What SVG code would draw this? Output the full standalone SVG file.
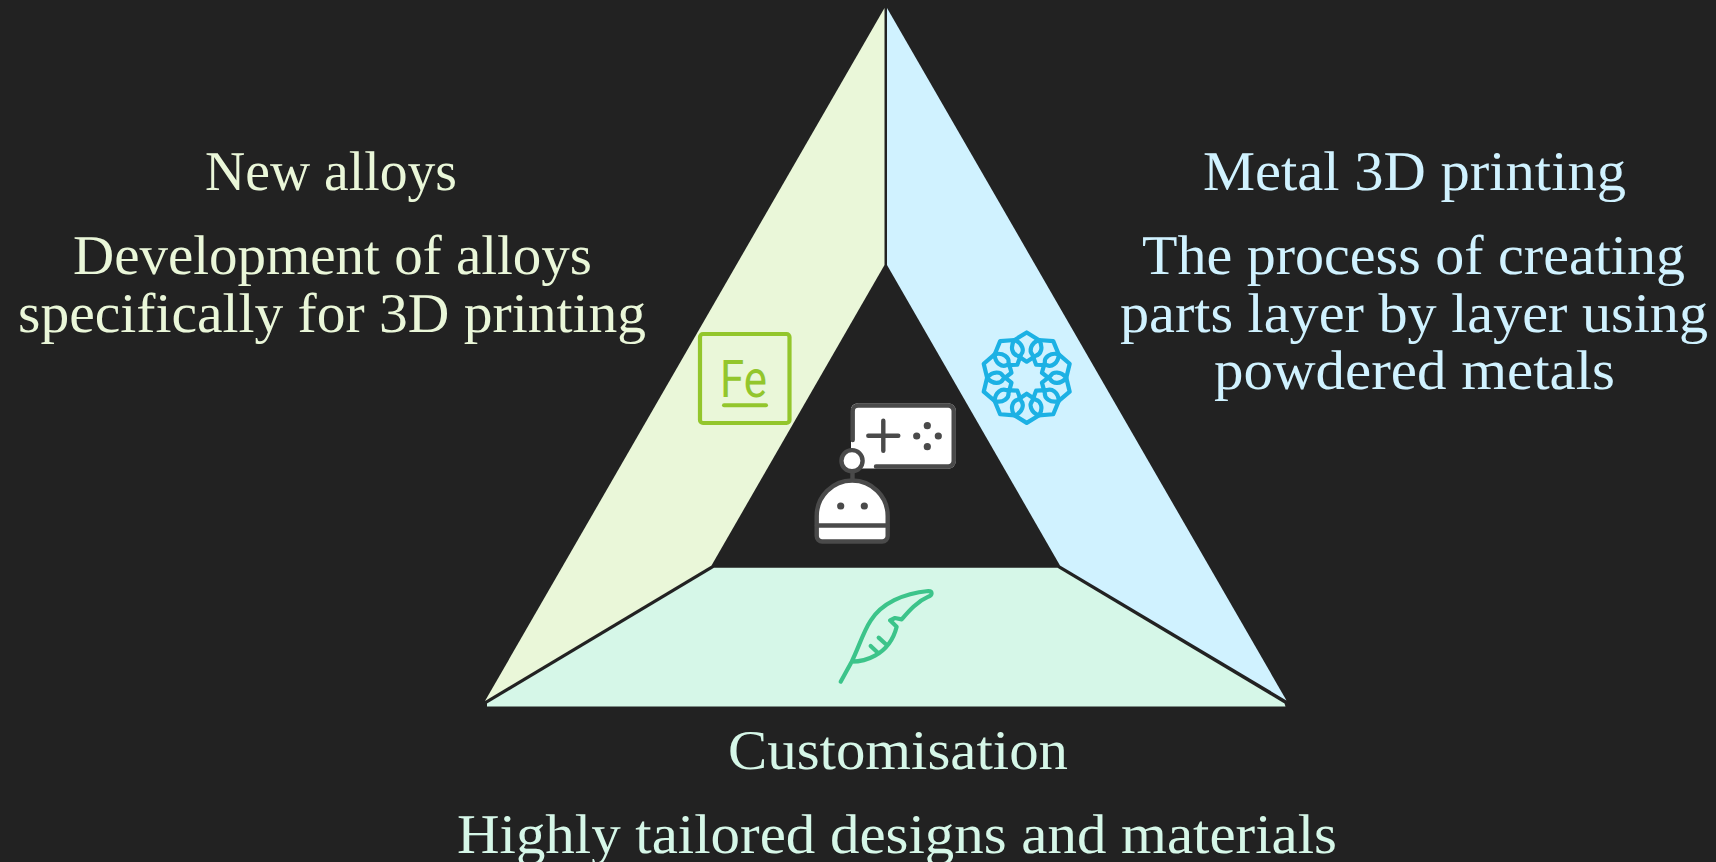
<svg xmlns="http://www.w3.org/2000/svg" width="1716" height="862" viewBox="0 0 1716 862">
<style>
text{font-family:"Liberation Serif","Times New Roman",serif;font-size:56px;text-rendering:geometricPrecision}
.g{fill:#EAF7D9}.b{fill:#D0F2FF}.m{fill:#D6F7E8}
.ln{fill:none;stroke:#4A4A4A;stroke-width:4.4;stroke-linecap:round;stroke-linejoin:round}
.dot{fill:#4A4A4A}
</style>
<defs>
<path id="lobe" d="M0,-45.2 L-12.5,-37.5 C-17,-30 -14,-23 -9,-22 L0,-16 L9,-22 C14,-23 17,-30 12.5,-37.5Z" fill="none" stroke="#1CB1E4" stroke-width="4.2" stroke-linejoin="round"/>
</defs>
<rect width="1716" height="862" fill="#222222"/>
<g id="new-alloys">
<polygon class="g" points="884.5,8 884.5,265 711.5,565.5 485,701"/>
<rect x="700" y="334" width="89.5" height="89" rx="3" fill="none" stroke="#93C62C" stroke-width="4.2"/>
<text x="720" y="397" textLength="47" lengthAdjust="spacingAndGlyphs" style="font-family:Roboto,sans-serif;font-size:52px;font-weight:400;fill:#93C62C">Fe</text>
<line x1="724" y1="405.2" x2="766" y2="405.2" stroke="#93C62C" stroke-width="4" stroke-linecap="round"/>
<text class="g" x="205" y="190" textLength="252" lengthAdjust="spacingAndGlyphs">New alloys</text>
<text class="g" x="73" y="274" textLength="519" lengthAdjust="spacingAndGlyphs">Development of alloys</text>
<text class="g" x="18" y="332" textLength="628" lengthAdjust="spacingAndGlyphs">specifically for 3D printing</text>
</g>
<g id="metal-printing">
<polygon class="b" points="887,8 887,265 1060,565.5 1286.5,700.5"/>
<g id="rosette" transform="translate(1026.7 377.7)">
<use href="#lobe"/><use href="#lobe" transform="rotate(36)"/><use href="#lobe" transform="rotate(72)"/><use href="#lobe" transform="rotate(108)"/><use href="#lobe" transform="rotate(144)"/><use href="#lobe" transform="rotate(180)"/><use href="#lobe" transform="rotate(216)"/><use href="#lobe" transform="rotate(252)"/><use href="#lobe" transform="rotate(288)"/><use href="#lobe" transform="rotate(324)"/>
</g>
<text class="b" x="1203" y="190" textLength="423" lengthAdjust="spacingAndGlyphs">Metal 3D printing</text>
<text class="b" x="1142" y="274" textLength="543" lengthAdjust="spacingAndGlyphs">The process of creating</text>
<text class="b" x="1120" y="332" textLength="588" lengthAdjust="spacingAndGlyphs">parts layer by layer using</text>
<text class="b" x="1214" y="389" textLength="401" lengthAdjust="spacingAndGlyphs">powdered metals</text>
</g>
<g id="customisation">
<polygon class="m" points="714,567.8 1057.5,567.8 1284.5,703.5 1285.5,706.4 487,706.4 487,703.5"/>
<g transform="translate(780 560) scale(.33333)" fill="none" stroke="#3CC48A" stroke-width="12.5" stroke-linecap="round" stroke-linejoin="round">
<path d="M182,365 L215,305 C235,265 250,215 272,182 C305,130 370,100 445,93 C458,93 458,106 445,110 C410,125 385,155 365,178 L345,174 L330,181 L350,200 C340,240 315,270 285,287 C262,300 240,305 215,305"/>
<path d="M272,258 L292,277 M296,233 L317,252"/>
</g>
<text class="m" x="728" y="769" textLength="340" lengthAdjust="spacingAndGlyphs">Customisation</text>
<text class="m" x="457" y="853" textLength="880" lengthAdjust="spacingAndGlyphs">Highly tailored designs and materials</text>
</g>
<g id="robot">
<path d="M857,403.5 H949 a6.5,6.5 0 0 1 6.5,6.5 V462 a6.5,6.5 0 0 1 -6.5,6.5 H860 L851,462 V410 a6,6 0 0 1 6,-6.5z" fill="#fff"/>
<path class="ln" d="M852.7,440 V411 a5.5,5.5 0 0 1 5.5,-5.5 H948.2 a5.5,5.5 0 0 1 5.5,5.5 V461 a5.5,5.5 0 0 1 -5.5,5.5 H876"/>
<path class="ln" d="M868.3,435.7 H898.3 M883.3,420.7 V450.7"/>
<circle class="dot" cx="927.3" cy="425.7" r="3.6"/><circle class="dot" cx="916.7" cy="436" r="3.6"/><circle class="dot" cx="938.3" cy="436" r="3.6"/><circle class="dot" cx="927.3" cy="446.7" r="3.6"/>
<line class="ln" x1="852.5" y1="472" x2="852.5" y2="481"/>
<circle class="ln" cx="852" cy="460.7" r="10.6" style="fill:#fff"/>
<path class="ln" d="M816.7,536 V516 A35.5,35.5 0 0 1 887.7,516 V536 a5.5,5.5 0 0 1 -5.5,5.5 H822.2 a5.5,5.5 0 0 1 -5.5,-5.5z" style="fill:#fff"/>
<path class="ln" d="M817,525.5 H887.5"/>
<circle class="dot" cx="840.7" cy="506" r="3.6"/><circle class="dot" cx="864.3" cy="506" r="3.6"/>
</g>
</svg>
